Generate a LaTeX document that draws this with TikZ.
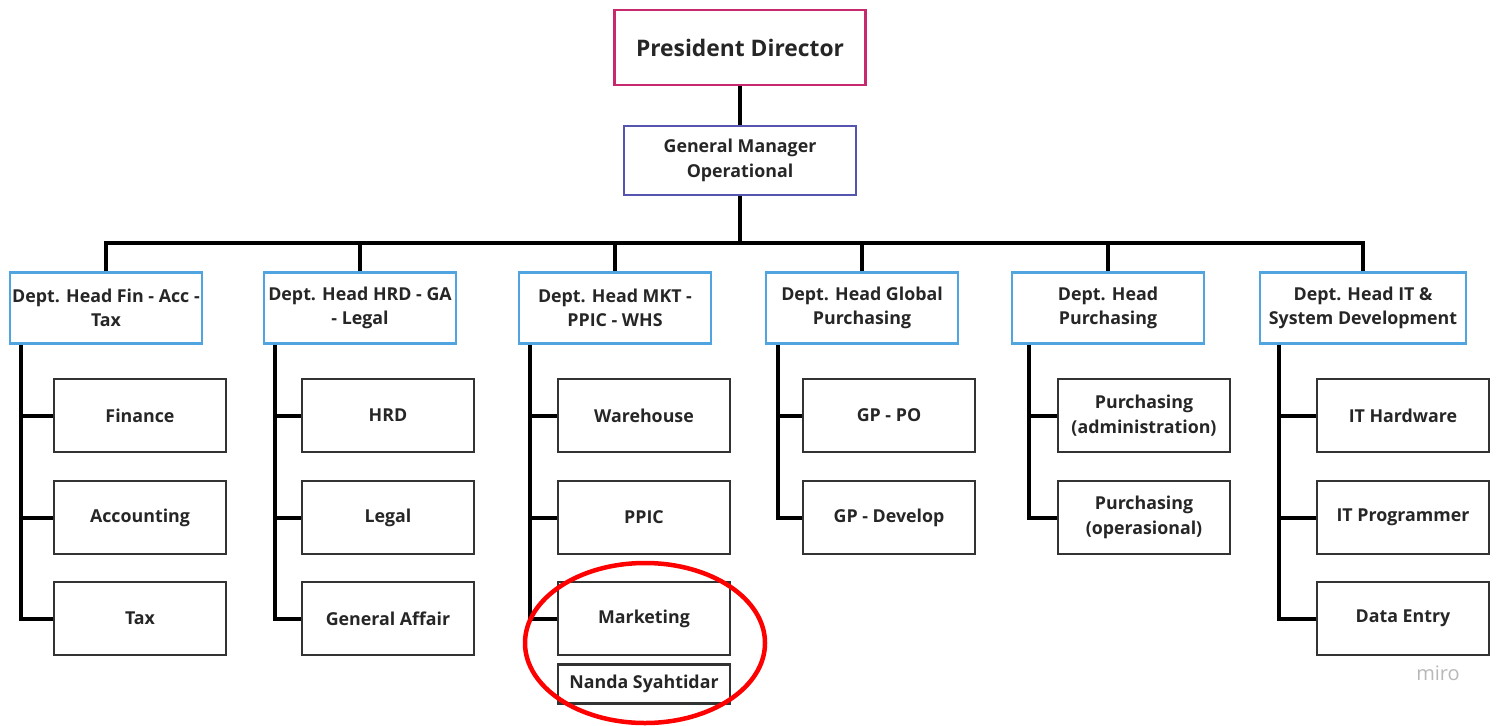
\documentclass[tikz,border=0pt]{standalone}
\usepackage{fontspec}
\setmainfont{Open Sans}
\usetikzlibrary{shapes.geometric}
\begin{document}
\begin{tikzpicture}[x=1pt,y=-1pt,
  txt/.style={font=\fontsize{17.8}{24.5}\selectfont\bfseries, text=black!85, align=center, inner sep=0pt},
  pres/.style={txt, draw={rgb,255:red,200;green,40;blue,110}, line width=2.5pt, minimum width=251pt, minimum height=75pt, font=\fontsize{22.8}{28}\selectfont\bfseries},
  gmbox/.style={txt, draw={rgb,255:red,85;green,85;blue,175}, line width=2.5pt, minimum width=232pt, minimum height=69pt},
  dept/.style={txt, draw={rgb,255:red,80;green,165;blue,225}, line width=2.5pt, minimum width=192pt, minimum height=71pt},
  unit/.style={txt, draw=black!80, line width=2.5pt, minimum width=172pt, minimum height=73pt},
  link/.style={line width=4pt, black}]
\useasboundingbox (0,0) rectangle (1498,725);

% top levels
\node[pres]  (pd) at (740,47.5) {President Director};
\node[gmbox] (gm) at (740,160.5) {General Manager\\Operational};

% department heads
\node[dept] (d1) at (106,308)  {Dept. Head Fin - Acc -\\Tax};
\node[dept] (d2) at (360,308)  {Dept. Head HRD - GA\\- Legal};
\node[dept] (d3) at (615,308)  {Dept. Head MKT -\\PPIC - WHS};
\node[dept] (d4) at (862,308)  {Dept. Head Global\\Purchasing};
\node[dept] (d5) at (1108,308) {Dept. Head\\Purchasing};
\node[dept, minimum width=206pt] (d6) at (1363,308) {Dept. Head IT \&\\System Development};

% units
\node[unit] (a1) at (140,415.5) {Finance};
\node[unit] (a2) at (140,517.5) {Accounting};
\node[unit] (a3) at (140,618.5) {Tax};
\node[unit] (b1) at (388,415.5) {HRD};
\node[unit] (b2) at (388,517.5) {Legal};
\node[unit] (b3) at (388,618.5) {General Affair};
\node[unit] (c1) at (644,415.5) {Warehouse};
\node[unit] (c2) at (644,517.5) {PPIC};
\node[unit] (c3) at (644,618.5) {Marketing};
\node[unit, minimum height=39pt] (c4) at (644,684) {Nanda Syahtidar};
\node[unit] (e1) at (889,415.5) {GP - PO};
\node[unit] (e2) at (889,517.5) {GP - Develop};
\node[unit] (f1) at (1144,415.5) {Purchasing\\(administration)};
\node[unit] (f2) at (1144,517.5) {Purchasing\\(operasional)};
\node[unit] (g1) at (1403,415.5) {IT Hardware};
\node[unit] (g2) at (1403,517.5) {IT Programmer};
\node[unit] (g3) at (1403,618.5) {Data Entry};

% main connectors
\draw[link] (pd.south) -- (gm.north);
\coordinate (bus) at (740,243);
\draw[link] (gm.south) -- (bus);
\draw[link] (d1.north) |- (bus) -| (d6.north);
\foreach \d in {d2,d3,d4,d5}
  \draw[link] (\d.north) -- (\d.north |- bus);

% department-to-unit connectors
\draw[link] ([xshift=12pt]d1.south west) |- (a3.west);
\draw[link] (a1.west) -- (a1.west -| 22,0);
\draw[link] (a2.west) -- (a2.west -| 22,0);
\draw[link] ([xshift=12pt]d2.south west) |- (b3.west);
\draw[link] (b1.west) -- (b1.west -| 276,0);
\draw[link] (b2.west) -- (b2.west -| 276,0);
\draw[link] ([xshift=12pt]d3.south west) |- (c3.west);
\draw[link] (c1.west) -- (c1.west -| 531,0);
\draw[link] (c2.west) -- (c2.west -| 531,0);
\draw[link] ([xshift=13pt]d4.south west) |- (e2.west);
\draw[link] (e1.west) -- (e1.west -| 779,0);
\draw[link] ([xshift=18pt]d5.south west) |- (f2.west);
\draw[link] (f1.west) -- (f1.west -| 1030,0);
\draw[link] ([xshift=20pt]d6.south west) |- (g3.west);
\draw[link] (g1.west) -- (g1.west -| 1280,0);
\draw[link] (g2.west) -- (g2.west -| 1280,0);

% highlight
\node[draw=red, line width=4.5pt, ellipse, minimum width=240pt, minimum height=160pt, inner sep=0pt] (hl) at (645,643) {};

% watermark
\node[font=\fontsize{20}{24}\selectfont, text=black!28, inner sep=0pt] (wm) at (1438,673) {miro};
\end{tikzpicture}
\end{document}
